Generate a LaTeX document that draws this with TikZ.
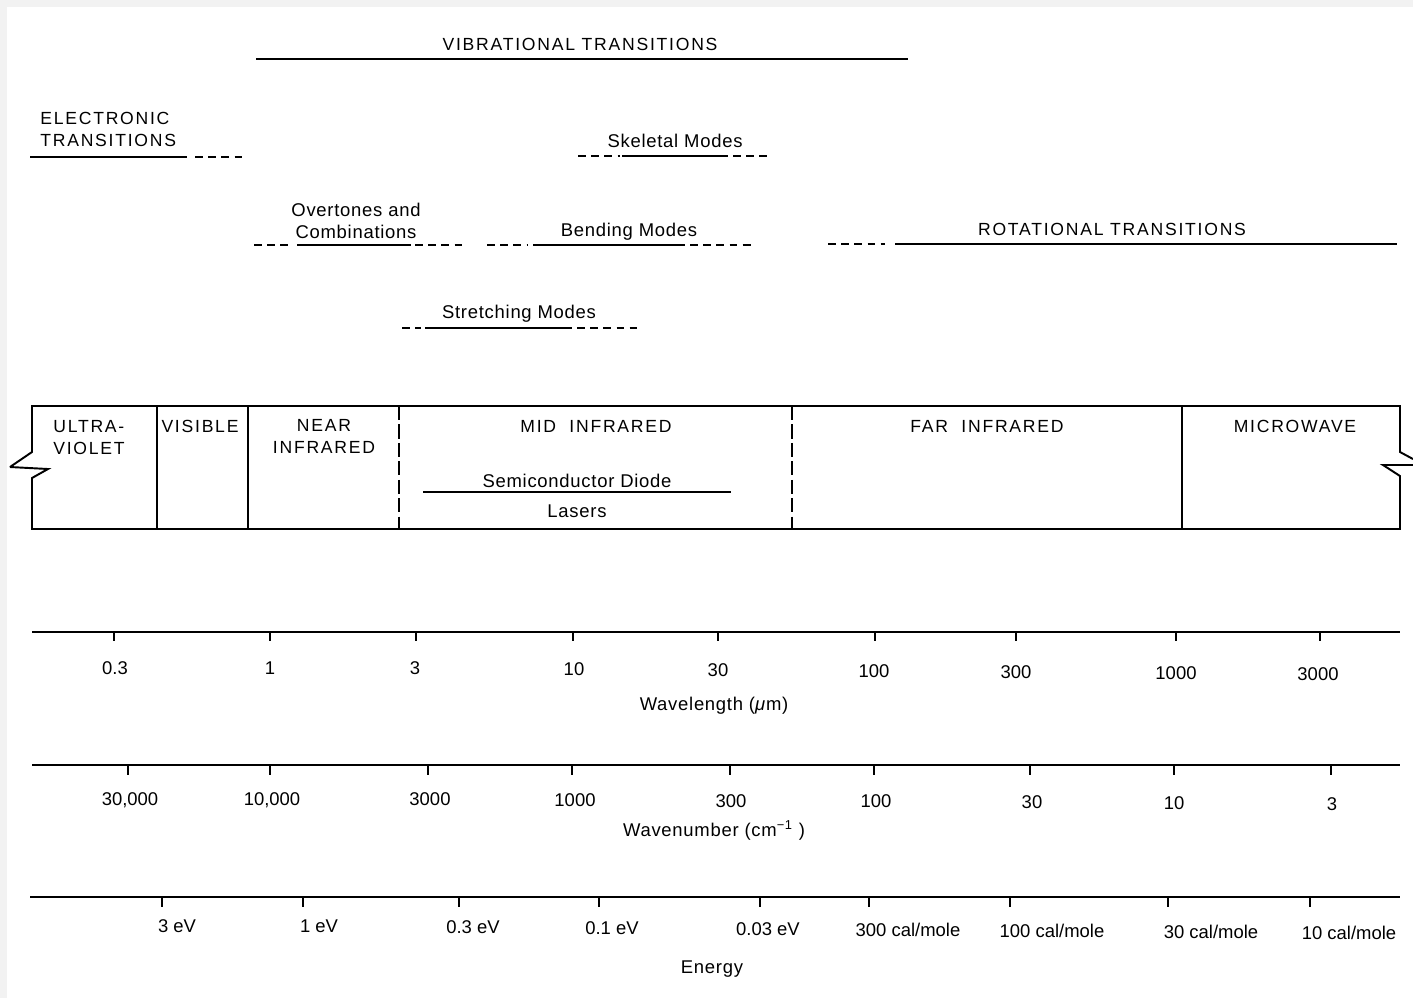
\documentclass[tikz,border=0pt]{standalone}
\usepackage{fontspec}
\setmainfont{Liberation Sans}
\newfontfamily\capsfont[LetterSpace=10]{Liberation Sans}
\newfontfamily\lowfont[LetterSpace=4]{Liberation Sans}
\usetikzlibrary{positioning}

\begin{document}
\begin{tikzpicture}[x=0.2mm, y=-0.2mm,
        caps/.style={font=\capsfont\fontsize{10}{12.5}\selectfont, inner sep=0pt, anchor=base},
        lbl/.style={font=\lowfont\fontsize{10.5}{12.5}\selectfont, inner sep=0pt, anchor=base},
        num/.style={font=\fontsize{10.5}{12.5}\selectfont, inner sep=0pt, anchor=base},
        band/.style={line width=1.1pt},
        faint/.style={line width=1.1pt, dash pattern=on 4.5pt off 3pt},
        frame/.style={line width=1.1pt},
        axis/.style={line width=1.2pt},
        tick/.style={line width=0.8pt}]
            \useasboundingbox (0,0) rectangle (1413,998);
            \fill[black!5] (0,0) rectangle (1413,998);
            \fill[white] (7,7) rectangle (1413,998);

            % transitions
            \node[caps] at (580,50)   (vib) {VIBRATIONAL TRANSITIONS};
            \draw[band] (256,59) -- (908,59);

            \node[caps, align=left, anchor=base west] at (40,146)   (elec) {ELECTRONIC\\TRANSITIONS};
            \draw[band] (30,157) -- (187,157);
            \draw[faint] (195,157) -- (246,157);

            \node[lbl] at (675,147)   (skel) {Skeletal Modes};
            \draw[faint] (578,156) -- (620,156);
            \draw[band] (622,156) -- (728,156);
            \draw[faint] (733,156) -- (772,156);

            \node[lbl, align=center] at (356,238)   (over) {Overtones and\\Combinations};
            \draw[faint] (254,245) -- (292,245);
            \draw[band] (297,245) -- (411,245);
            \draw[faint] (415,245) -- (462,245);

            \node[lbl] at (629,236)   (bend) {Bending Modes};
            \draw[faint] (487,245) -- (528,245);
            \draw[band] (533,245) -- (685,245);
            \draw[faint] (690,245) -- (753,245);

            \node[caps] at (1112,235)   (rot) {ROTATIONAL TRANSITIONS};
            \draw[faint] (828,244) -- (885,244);
            \draw[band] (895,244) -- (1397,244);

            \node[lbl] at (519,318)   (stretch) {Stretching Modes};
            \draw[faint] (402,328) -- (421,328);
            \draw[band] (425,328) -- (572,328);
            \draw[faint] (577,328) -- (637,328);

            % spectrum strip
            \draw[frame, line join=miter] (10,467) -- (32,452) -- (32,406) -- (1400,406) -- (1400,452) -- (1413,459);
            \draw[frame, line join=miter] (1413,465) -- (1383,465) -- (1400,476) -- (1400,529) -- (32,529) -- (32,478) -- (48,469) -- (10,467);
            \draw[frame] (157,406) -- (157,529);
            \draw[frame] (248,406) -- (248,529);
            \draw[frame, dash pattern=on 8pt off 2.5pt] (399,406) -- (399,529);
            \draw[frame, dash pattern=on 8pt off 2.5pt] (792,406) -- (792,529);
            \draw[frame] (1182,406) -- (1182,529);

            \node[caps, align=left, anchor=base west] at (53,454)   (uv) {ULTRA-\\VIOLET};
            \node[caps] at (200,432)   (vis) {VISIBLE};
            \node[caps, align=center] at (324,453)   (nir) {NEAR\\INFRARED};
            \node[caps] at (596,432)   (mir) {MID\ \ INFRARED};
            \node[lbl] at (577,487)   (diode) {Semiconductor Diode};
            \draw[band] (423,492) -- (731,492);
            \node[lbl] at (577,517)   (lasers) {Lasers};
            \node[caps] at (987,432)   (fir) {FAR\ \ INFRARED};
            \node[caps] at (1295,432)   (mw) {MICROWAVE};

            % wavelength scale
            \draw[axis] (32,632) -- (1400,632);
            \foreach \x in {114,270,416,573,718,875,1016,1176,1320}
                \draw[tick] (\x,632) -- (\x,641);
            \node[num] at (115,674)   (w1) {0.3};
            \node[num] at (270,674)   (w2) {1};
            \node[num] at (415,674)   (w3) {3};
            \node[num] at (574,675)   (w4) {10};
            \node[num] at (718,676)   (w5) {30};
            \node[num] at (874,677)   (w6) {100};
            \node[num] at (1016,678)   (w7) {300};
            \node[num] at (1176,679)   (w8) {1000};
            \node[num] at (1318,680)   (w9) {3000};
            \node[lbl] at (714,710)   (wl) {Wavelength (\textit{μ}m)};

            % wavenumber scale
            \draw[axis] (32,765) -- (1400,765);
            \foreach \x in {128,270,428,572,730,874,1030,1174,1331}
                \draw[tick] (\x,765) -- (\x,775);
            \node[num] at (130,805)   (k1) {30,000};
            \node[num] at (272,805)   (k2) {10,000};
            \node[num] at (430,805)   (k3) {3000};
            \node[num] at (575,806)   (k4) {1000};
            \node[num] at (731,807)   (k5) {300};
            \node[num] at (876,807)   (k6) {100};
            \node[num] at (1032,808)   (k7) {30};
            \node[num] at (1174,809)   (k8) {10};
            \node[num] at (1332,810)   (k9) {3};
            \node[lbl] at (714,836)   (wn) {Wavenumber (cm\textsuperscript{−1} )};

            % energy scale
            \draw[axis] (30,897) -- (1400,897);
            \foreach \x in {162,303,459,599,760,869,1010,1168,1310}
                \draw[tick] (\x,897) -- (\x,907);
            \node[num] at (177,932)   (e1) {3 eV};
            \node[num] at (319,932)   (e2) {1 eV};
            \node[num] at (473,933)   (e3) {0.3 eV};
            \node[num] at (612,934)   (e4) {0.1 eV};
            \node[num] at (768,935)   (e5) {0.03 eV};
            \node[num] at (908,936)   (e6) {300 cal/mole};
            \node[num] at (1052,937)   (e7) {100 cal/mole};
            \node[num] at (1211,938)   (e8) {30 cal/mole};
            \node[num] at (1349,939)   (e9) {10 cal/mole};
            \node[lbl] at (712,973)   (en) {Energy};
        \end{tikzpicture}
\end{document}
